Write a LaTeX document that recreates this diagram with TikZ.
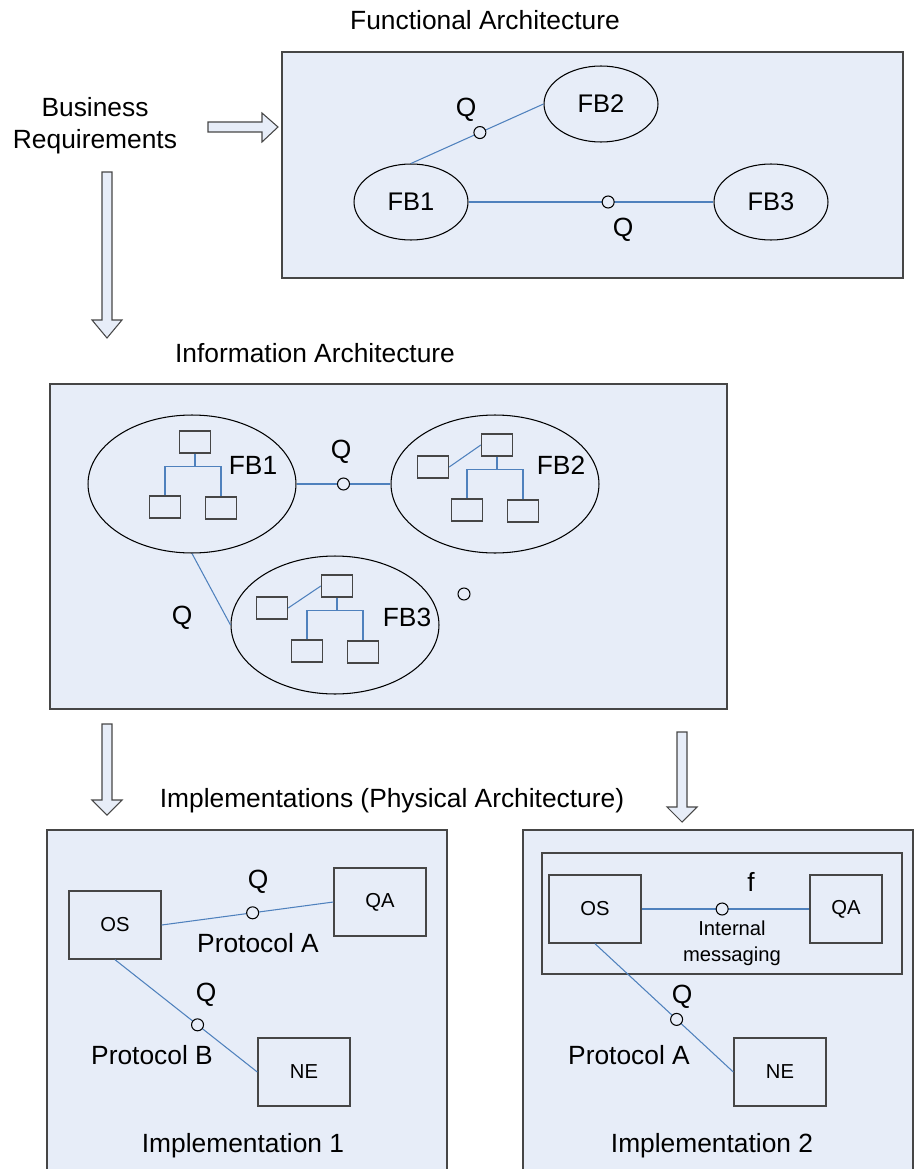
\documentclass[tikz,border=0pt]{standalone}
\usepackage{fontspec}
\setmainfont{Liberation Sans}
\usetikzlibrary{shapes.geometric}

\definecolor{paneblue}{RGB}{231,237,248}
\definecolor{linkblue}{RGB}{79,129,189}
\definecolor{edgegray}{RGB}{70,70,70}

\tikzset{
  panel/.style={draw=edgegray, fill=paneblue, line width=0.8pt},
  bigarrow/.style={draw=edgegray, fill=paneblue, line width=0.6pt},
  fb/.style={ellipse, draw=black, fill=paneblue, line width=0.6pt, inner sep=0pt, font=\fontsize{14.5}{17}\selectfont},
  leaf/.style={rectangle, draw=edgegray, fill=paneblue, line width=0.8pt, minimum width=0.62cm, minimum height=0.44cm, inner sep=0pt},
  unit/.style={rectangle, draw=edgegray, fill=paneblue, line width=0.8pt, minimum width=1.84cm, minimum height=1.36cm, inner sep=0pt, font=\fontsize{11.5}{13}\selectfont},
  port/.style={circle, draw=black, fill=paneblue, line width=0.6pt, minimum size=0.24cm, inner sep=0pt},
  link/.style={draw=linkblue, line width=0.6pt},
  txt/.style={inner sep=0pt, align=center, font=\fontsize{15}{18}\selectfont},
  small/.style={inner sep=0pt, align=center, font=\fontsize{11.5}{14.8}\selectfont},
}

\begin{document}
\begin{tikzpicture}[x=0.02cm,y=-0.02cm]

\useasboundingbox (0,0) rectangle (914,1169);

% functional architecture
\node[txt] (funtitle) at (485,20) {Functional Architecture};
\node[txt] (busreq) at (95,126) {Business\\Requirements};
\draw[panel] (282,52) rectangle (903,278);

\node[fb, minimum width=2.28cm, minimum height=1.52cm] (fa1) at (411,202) {FB1};
\node[fb, minimum width=2.28cm, minimum height=1.52cm] (fa2) at (601,104) {FB2};
\node[fb, minimum width=2.28cm, minimum height=1.52cm] (fa3) at (771,202) {FB3};

\draw[link] (fa1.north) -- node[port, pos=0.52] (fq1) {} (fa2.west);
\draw[link] (fa1.east) -- node[port, pos=0.57] (fq2) {} (fa3.west);
\node[txt] (fqlab1) at (466,110) {Q};
\node[txt] (fqlab2) at (623,230) {Q};

% block arrows
\draw[bigarrow] (208,122) -- (262,122) -- (262,113) -- (278,127) -- (262,142) -- (262,132) -- (208,132) -- cycle;
\foreach \x/\ytop/\yneck/\ytip in {107/172/320/338, 107/724/800/815, 682/732/807/822}{
    \draw[bigarrow] ({\x-5},\ytop) -- ({\x+5},\ytop) -- ({\x+5},\yneck) -- ({\x+15},\yneck)
        -- (\x,\ytip) -- ({\x-15},\yneck) -- ({\x-5},\yneck) -- cycle;
}

% information architecture
\node[txt] (infotitle) at (315,353) {Information Architecture};
\draw[panel] (50,384) rectangle (727,709);

\node[fb, minimum width=4.16cm, minimum height=2.76cm] (ib1) at (192,484) {};
\node[fb, minimum width=4.16cm, minimum height=2.76cm] (ib2) at (495,484) {};
\node[fb, minimum width=4.16cm, minimum height=2.76cm] (ib3) at (335,625) {};

\draw[link] (ib1.east) -- node[port] (iq1) {} (ib2.west);
\draw[link] (ib1.south) -- (ib3.west);
\node[port] (istray) at (464,594) {};
\node[txt] (iqlab1) at (341,452) {Q};
\node[txt] (iqlab2) at (182,618) {Q};

\foreach \t/\tx/\ty in {ta/195/442, tb/497/445, tc/337/586}{
    \node[leaf] (\t-top) at (\tx,\ty) {};
    \node[leaf] (\t-bl) at ({\tx-30},{\ty+65}) {};
    \node[leaf] (\t-br) at ({\tx+26},{\ty+66}) {};
    \draw[link] (\t-top.south) -- ++(0,13) coordinate (\t-j);
    \draw[link] (\t-bl.north) |- (\t-j) -| (\t-br.north);
}
\node[leaf] (tb-side) at (433,467) {};
\node[leaf] (tc-side) at (272,608) {};
\draw[link] (tb-side.east) -- (tb-top.west);
\draw[link] (tc-side.east) -- (tc-top.west);

\node[txt] (iblab1) at (253,465) {FB1};
\node[txt] (iblab2) at (561,465) {FB2};
\node[txt] (iblab3) at (407,617) {FB3};

% implementations
\node[txt] (impltitle) at (392,801) {Implementations (Physical Architecture)};

% implementation 1
\draw[panel] (47,830) rectangle (447,1185);
\node[unit] (os1) at (115,925) {OS};
\node[unit] (qa1) at (380,902) {QA};
\node[unit] (ne1) at (304,1072) {NE};
\draw[link] (os1.east) -- node[port, pos=0.53] (p1a) {} (qa1.west);
\draw[link] (os1.south) -- node[port, pos=0.58] (p1b) {} (ne1.west);
\node[txt] (q1a) at (258,882) {Q};
\node[txt] (proto1a) at (258,943) {Protocol A};
\node[txt] (q1b) at (206,995) {Q};
\node[txt] (proto1b) at (152,1055) {Protocol B};
\node[txt] (impl1) at (243,1146) {Implementation 1};

% implementation 2
\draw[panel] (523,830) rectangle (913,1185);
\draw[panel] (542,853) rectangle (902,974);
\node[unit] (os2) at (595,909) {OS};
\node[unit, minimum width=1.44cm] (qa2) at (846,909) {QA};
\node[unit] (ne2) at (780,1072) {NE};
\draw[link] (os2.east) -- node[port, pos=0.48] (p2f) {} (qa2.west);
\draw[link] (os2.south) -- node[port, pos=0.59] (p2q) {} (ne2.west);
\node[txt] (f2) at (751,882) {f};
\node[small] (msg2) at (732,943) {Internal\\messaging};
\node[txt] (q2) at (682,997) {Q};
\node[txt] (proto2) at (629,1055) {Protocol A};
\node[txt] (impl2) at (712,1146) {Implementation 2};

\end{tikzpicture}
\end{document}
